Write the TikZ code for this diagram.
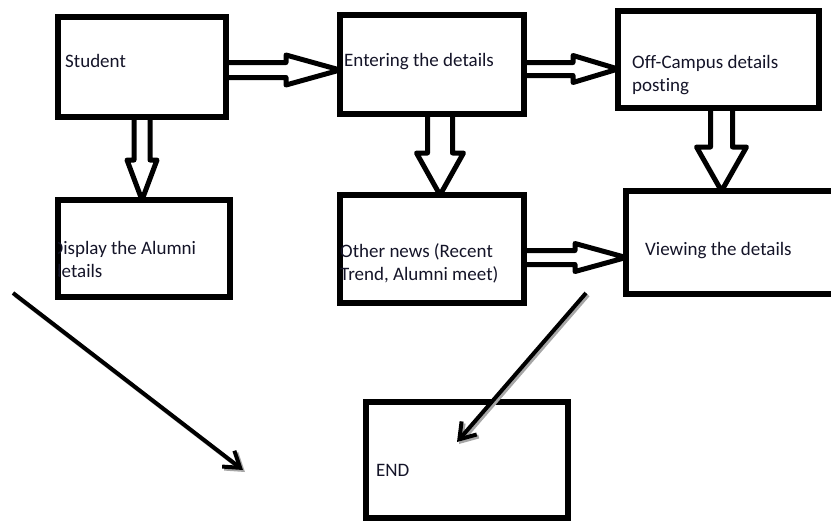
\documentclass[tikz,border=0pt]{standalone}
\usepackage{fontspec}
\setmainfont[Ligatures=NoCommon]{Carlito}
\usetikzlibrary{calc,arrows.meta}
\definecolor{inkblue}{RGB}{20,20,40}
\tikzset{
  box/.style={draw, line width=5.5pt, outer sep=0pt, inner sep=0pt},
  txt/.style={anchor=base west, inner sep=0pt, align=left, text=inkblue, font=\fontsize{19}{22.5}\selectfont},
  hollow/.style={draw, line width=5pt, line join=round},
  thinarrow/.style={line width=4pt, -{Straight Barb[length=15pt,width=20pt]}},
  shadowarrow/.style={thinarrow, draw=black!35, transform canvas={shift={(2pt,-2pt)}}},
}
\newcommand\hollowarrow[5]{%
  \path (#4) coordinate (tail) (#5) coordinate (tip) ($(tip)!#3pt!(tail)$) coordinate (neck);
  \draw[hollow] ($(tail)!#1pt!90:(tip)$) -- ($(neck)!#1pt!90:(tip)$) -- ($(neck)!#2pt!90:(tip)$) -- (tip)
    -- ($(neck)!#2pt!-90:(tip)$) -- ($(neck)!#1pt!-90:(tip)$) -- ($(tail)!#1pt!-90:(tip)$);
}
\begin{document}
\begin{tikzpicture}[x=1pt,y=-1pt]
    \useasboundingbox (0,0) rectangle (831,522);

    \node[box, minimum width=168pt, minimum height=100pt] (student) at (142,67) {};
    \node[box, minimum width=172pt, minimum height=97pt] (display) at (144,248.5) {};
    \node[box, minimum width=184pt, minimum height=99pt] (enter) at (432,64.5) {};
    \node[box, minimum width=184pt, minimum height=108pt] (other) at (432,249) {};
    \node[box, minimum width=201pt, minimum height=97pt] (offcampus) at (718.5,59.5) {};
    \node[box, minimum width=214pt, minimum height=103pt] (viewing) at (733,242.5) {};
    \node[box, minimum width=202pt, minimum height=116pt] (endbox) at (467,460) {};

    \node[txt] (student-txt) at (65,67) {Student};
    \begin{scope}
        \clip (display.north west) rectangle (display.south east);
        \node[txt] (display-txt) at (51.5,277) {Display the Alumni\\details};
    \end{scope}
    \node[txt] (enter-txt) at (344,66) {Entering the details};
    \node[txt] (other-txt) at (340,280) {Other news (Recent\\Trend, Alumni meet)};
    \node[txt] (offcampus-txt) at (632,91) {Off-Campus details\\posting};
    \node[txt] (viewing-txt) at (645,255) {Viewing the details};
    \node[txt] (end-txt) at (376,476) {END};

    \hollowarrow{7.5}{15}{54}{[yshift=-3pt]student.east}{tail -| enter.west}
    \hollowarrow{6.5}{13.5}{45}{[yshift=-4.5pt]enter.east}{tail -| offcampus.west}
    \hollowarrow{7}{14}{51}{[yshift=-8.5pt]other.east}{tail -| viewing.west}
    \hollowarrow{8}{15}{40}{student.south}{tail |- display.north}
    \hollowarrow{12.5}{23.5}{42}{[xshift=8pt]enter.south}{tail |- other.north}
    \hollowarrow{11}{25}{44}{[xshift=3pt]offcampus.south}{tail |- viewing.north}

    \coordinate (left-start) at (13,293);
    \coordinate (left-end) at (243,470);
    \coordinate (right-start) at (586,293);
    \coordinate (right-end) at (457,442);
    \draw[shadowarrow] (left-start) -- (left-end);
    \draw[shadowarrow] (right-start) -- (right-end);
    \draw[thinarrow] (left-start) -- (left-end);
    \draw[thinarrow] (right-start) -- (right-end);
\end{tikzpicture}
\end{document}
